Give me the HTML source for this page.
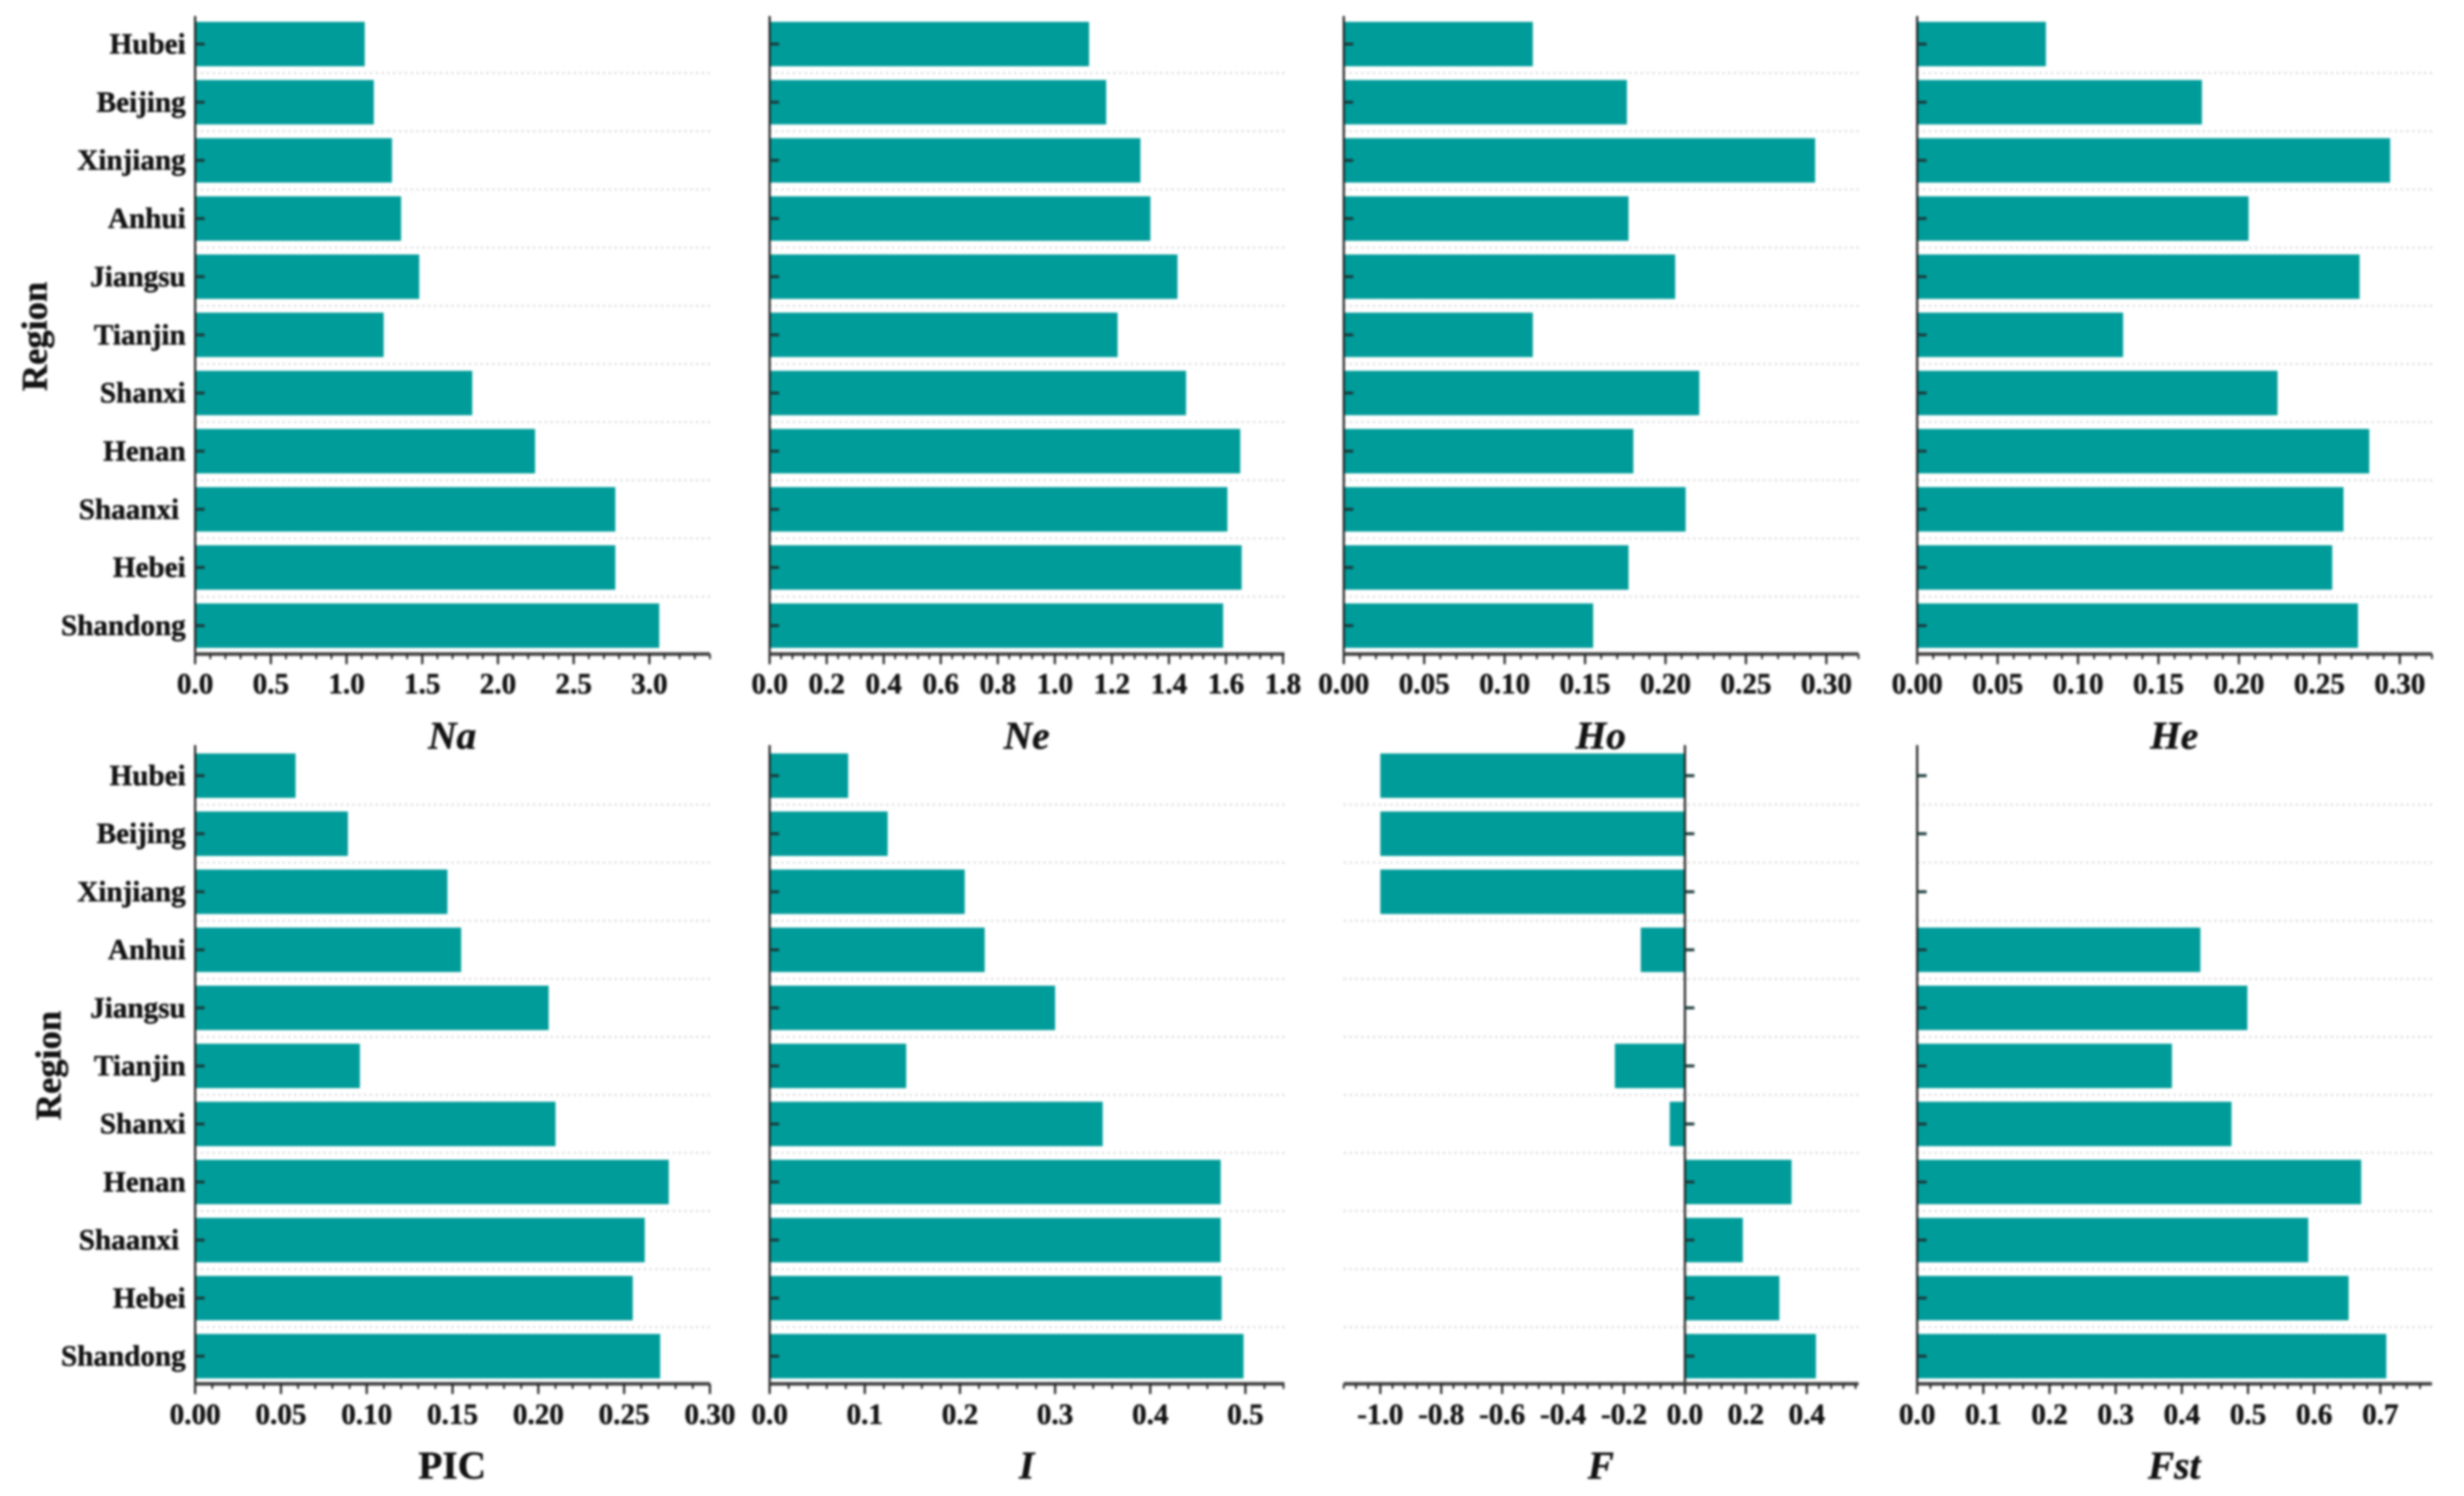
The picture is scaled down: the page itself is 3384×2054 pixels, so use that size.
<!DOCTYPE html>
<html lang="en">
<head>
<meta charset="utf-8">
<title>Genetic diversity by region</title>
<style>
  html, body { margin: 0; padding: 0; background: #fff; }
  body { width: 3384px; height: 2054px; overflow: hidden; }
  svg { display: block; filter: blur(1.5px); }
  text { font-family: "Liberation Serif", serif; font-weight: 700; fill: #111; stroke: #111; stroke-width: 0.6px; }
</style>
</head>
<body>
<svg id="chart" xmlns="http://www.w3.org/2000/svg" width="3384" height="2054" viewBox="0 0 3384 2054"></svg>
<script>
const categories = ["Hubei","Beijing","Xinjiang","Anhui","Jiangsu","Tianjin","Shanxi","Henan","Shaanxi","Hebei","Shandong"];

const naValues  = [1.12,1.18,1.30,1.36,1.48,1.245,1.83,2.245,2.775,2.775,3.065];
const neValues  = [1.12,1.18,1.30,1.335,1.43,1.22,1.46,1.65,1.605,1.655,1.59];
const hoValues  = [0.1175,0.176,0.293,0.177,0.206,0.1175,0.221,0.18,0.2125,0.177,0.155];
const heValues  = [0.08,0.177,0.294,0.206,0.275,0.128,0.224,0.281,0.265,0.258,0.274];
const picValues = [0.0585,0.089,0.147,0.155,0.206,0.096,0.21,0.276,0.262,0.255,0.271];
const iValues   = [0.0825,0.124,0.205,0.226,0.30,0.1435,0.35,0.474,0.474,0.475,0.498];
const fValues   = [-1,-1,-1,-0.145,0,-0.23,-0.05,0.35,0.19,0.31,0.43];
const fstValues = [0,0,0,0.428,0.499,0.385,0.475,0.671,0.591,0.652,0.709];

const naTicks  = ["0.0","0.5","1.0","1.5","2.0","2.5","3.0"];
const neTicks  = ["0.0","0.2","0.4","0.6","0.8","1.0","1.2","1.4","1.6","1.8"];
const hoTicks  = ["0.00","0.05","0.10","0.15","0.20","0.25","0.30"];
const heTicks  = ["0.00","0.05","0.10","0.15","0.20","0.25","0.30"];
const picTicks = ["0.00","0.05","0.10","0.15","0.20","0.25","0.30"];
const iTicks   = ["0.0","0.1","0.2","0.3","0.4","0.5"];
const fTicks   = ["-1.0","-0.8","-0.6","-0.4","-0.2","0.0","0.2","0.4"];
const fstTicks = ["0.0","0.1","0.2","0.3","0.4","0.5","0.6","0.7"];

const panels = [
  {key:"na",  title:"Na",  italic:true,  values:naValues,  ticks:naTicks,  min:0,     max:3.40,  col:0, row:0},
  {key:"ne",  title:"Ne",  italic:true,  values:neValues,  ticks:neTicks,  min:0,     max:1.805, col:1, row:0},
  {key:"ho",  title:"Ho",  italic:true,  values:hoValues,  ticks:hoTicks,  min:0,     max:0.32,  col:2, row:0},
  {key:"he",  title:"He",  italic:true,  values:heValues,  ticks:heTicks,  min:0,     max:0.32,  col:3, row:0},
  {key:"pic", title:"PIC", italic:false, values:picValues, ticks:picTicks, min:0,     max:0.30,  col:0, row:1},
  {key:"i",   title:"I",   italic:true,  values:iValues,   ticks:iTicks,   min:0,     max:0.541, col:1, row:1},
  {key:"f",   title:"F",   italic:true,  values:fValues,   ticks:fTicks,   min:-1.12, max:0.57,  col:2, row:1},
  {key:"fst", title:"Fst", italic:true,  values:fstValues, ticks:fstTicks, min:0,     max:0.778, col:3, row:1}
];

const svg = document.getElementById("chart");
const NS = "http://www.w3.org/2000/svg";
const colX = [268, 1057, 1845.5, 2633];
const plotW = 707;
const rowGeom = [
  {firstY:60.5, pitch:79.85, axisY:898,  top:22,   labelY:952,  titleY:1028, regionX:64, regionY:462},
  {firstY:1065, pitch:79.7,  axisY:1900, top:1023, labelY:1955, titleY:2030, regionX:83, regionY:1463}
];

function make(tag, attrs, text) {
  const el = document.createElementNS(NS, tag);
  for (const k in attrs) el.setAttribute(k, attrs[k]);
  if (text !== undefined) el.textContent = text;
  svg.appendChild(el);
  return el;
}

panels.forEach(function (p) {
  const g = rowGeom[p.row];
  const x0 = colX[p.col];
  const xScale = function (v) { return x0 + (v - p.min) / (p.max - p.min) * plotW; };
  const yScale = function (i) { return g.firstY + i * g.pitch; };
  const zeroX = xScale(0);

  // dotted separators between categories
  for (let i = 0; i < categories.length - 1; i++) {
    const sep = make("line", {x1:x0, x2:x0 + plotW, y1:yScale(i + 0.5), y2:yScale(i + 0.5), stroke:"#dcdcdc", "stroke-width":3, "stroke-dasharray":"3 5"});
    
    
  }

  // bars
  p.values.forEach(function (v, i) {
    if (v === 0) return;
    const bar = make("rect", {
      x: Math.min(xScale(v), zeroX),
      y: yScale(i) - 30.5,
      width: Math.abs(xScale(v) - zeroX),
      height: 61,
      fill: "#009c9a"
    });
    
    
  });

  // y axis line and category ticks
  const yAxis = make("line", {x1:zeroX, x2:zeroX, y1:g.top, y2:g.axisY + 14, stroke:"#222", "stroke-width":3});
  
  
  categories.forEach(function (c, i) {
    const t = make("line", {x1:zeroX, x2:zeroX + 13, y1:yScale(i), y2:yScale(i), stroke:"#1a3a3a", "stroke-width":4});
    
    
    if (p.col === 0) {
      const off = c === "Shaanxi" ? 9 : 0;
      const lab = make("text", {x:x0 - 13 - off, y:yScale(i) + 13, "text-anchor":"end", "font-size":40}, c);
      
      
    }
  });

  // x axis line
  const xAxis = make("line", {x1:x0, x2:x0 + plotW, y1:g.axisY, y2:g.axisY, stroke:"#444", "stroke-width":5});
  
  

  // x ticks: majors from labels, four minors in each major interval
  const tickVals = p.ticks.map(Number);
  const step = tickVals[1] - tickVals[0];
  const minorStep = step / 5;
  const startN = Math.ceil((p.min - tickVals[0]) / minorStep - 1e-6);
  const endN = Math.floor((p.max - tickVals[0]) / minorStep + 1e-6);
  for (let n = startN; n <= endN; n++) {
    const v = tickVals[0] + n * minorStep;
    const major = n % 5 === 0 && n >= 0 && n / 5 < tickVals.length;
    const isMajorPos = n % 5 === 0;
    const m = make("line", {x1:xScale(v), x2:xScale(v), y1:g.axisY, y2:g.axisY + (isMajorPos ? 14 : 7), stroke:"#222", "stroke-width":isMajorPos ? 3 : 2.5});
    
    
  }
  p.ticks.forEach(function (label, i) {
    const tl = make("text", {x:xScale(tickVals[i]), y:g.labelY, "text-anchor":"middle", "font-size":40}, label);
    
    
  });

  // axis title
  const title = make("text", {x:x0 + 353, y:g.titleY, "text-anchor":"middle", "font-size":54, "font-style":p.italic ? "italic" : "normal"}, p.title);
  
  
});

rowGeom.forEach(function (g, r) {
  const rt = make("text", {x:g.regionX, y:g.regionY, "text-anchor":"middle", "font-size":50, transform:"rotate(-90 " + g.regionX + " " + g.regionY + ")"}, "Region");
  
  
});
</script>
</body>
</html>
